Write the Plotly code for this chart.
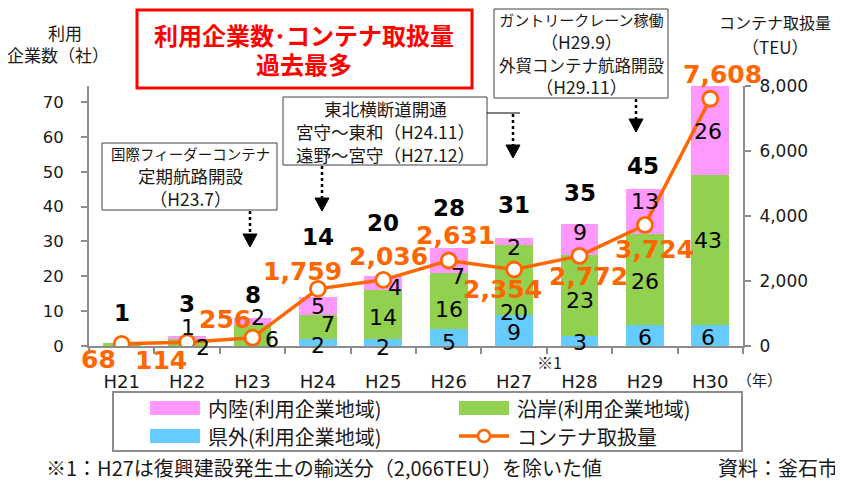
import plotly.graph_objects as go

# ---------------- data ----------------
categories = ["H21", "H22", "H23", "H24", "H25", "H26", "H27", "H28", "H29", "H30"]
kengai = [0, 0, 0, 2, 2, 5, 9, 3, 6, 6]            # 県外(利用企業地域)
engan = [1, 2, 6, 7, 14, 16, 20, 23, 26, 43]       # 沿岸(利用企業地域)
nairiku = [0, 1, 2, 5, 4, 7, 2, 9, 13, 26]         # 内陸(利用企業地域)
teu = [68, 114, 256, 1759, 2036, 2631, 2354, 2772, 3724, 7608]  # コンテナ取扱量
left_ticks = [0, 10, 20, 30, 40, 50, 60, 70]
right_ticks = [0, 2000, 4000, 6000, 8000]
series_names = ["県外(利用企業地域)", "沿岸(利用企業地域)", "内陸(利用企業地域)", "コンテナ取扱量"]

# ---------------- style ----------------
C_BLUE = "#66CCFF"
C_GREEN = "#92D050"
C_PINK = "#FF99FF"
C_ORANGE = "#FF6600"
AX = "#8C8C8C"
NUMF = "DejaVu Sans, Noto Sans CJK JP, sans-serif"
JPF = "Noto Sans CJK JP, DejaVu Sans, sans-serif"

OFF = 8  # page body margin
W, H = 843 - OFF, 483 - OFF
# plot area in page pixels
X0, X1, YB, YT = 89, 743, 346, 86


def px(x):
    return (x - X0) / (X1 - X0)


def py(y):
    return (YB - y) / (YB - YT)


totals = [a + b + c for a, b, c in zip(kengai, engan, nairiku)]

fig = go.Figure()
fig.add_trace(go.Bar(x=categories, y=kengai, name=series_names[0], marker_color=C_BLUE,
                     marker_line_width=0, width=0.58, showlegend=False))
fig.add_trace(go.Bar(x=categories, y=engan, name=series_names[1], marker_color=C_GREEN,
                     marker_line_width=0, width=0.58, showlegend=False))
fig.add_trace(go.Bar(x=categories, y=nairiku, name=series_names[2], marker_color=C_PINK,
                     marker_line_width=0, width=0.58, showlegend=False))
fig.add_trace(go.Scatter(x=categories, y=teu, name=series_names[3], yaxis="y2",
                         mode="lines+markers",
                         line=dict(color=C_ORANGE, width=3.5),
                         marker=dict(symbol="circle", size=15, color="white",
                                     line=dict(color=C_ORANGE, width=2.8)),
                         showlegend=False))

ann = []
shapes = []

# total labels
tot_shift = [(0, 30), (0, 32), (0, 23), (0, 60), (0, 53), (0, 40), (0, 33), (0, 31), (-2, 23), (-7, 32)]
for i, c in enumerate(categories):
    dx, dy = tot_shift[i]
    ann.append(dict(x=c, y=totals[i], xref="x", yref="y", text="<b>%d</b>" % totals[i],
                    showarrow=False, xshift=dx, yshift=dy, yanchor="middle",
                    font=dict(family=NUMF, size=23, color="#000000")))

# segment labels
seg_shift = {
    0: [None, None, None, (0, 2.5), (0, 4.5), (0, 5), (0, 2), (0, 2), (0, 1.5), (-2, 1.5)],
    1: [None, (16, 4.5), (19, 3.5), (10, -2), (0, 2.4), (0, 9), (0, 33), (0, 5), (0, 2), (-2, -10)],
    2: [None, (1, -10), (5, -4.6), (0, 1), (12, 4), (9, 16), (0, 5.6), (0, -7.7), (0, -10), (-2, 2)],
}
stacks = [kengai, engan, nairiku]
for s, vals in enumerate(stacks):
    for i, c in enumerate(categories):
        sh = seg_shift[s][i]
        if sh is None or vals[i] == 0:
            continue
        base = sum(stacks[k][i] for k in range(s))
        mid = base + vals[i] / 2
        ann.append(dict(x=c, y=mid, xref="x", yref="y", text=str(vals[i]), showarrow=False,
                        xshift=sh[0], yshift=-sh[1], yanchor="middle",
                        font=dict(family=NUMF, size=22, color="#000000")))

# line labels
teu_shift = [(-23, -16), (-26, -18), (-28, 18), (-15, 17), (5, 23), (7, 25), (-12, -20), (9, -21), (10, -25), (12, 24)]
for i, c in enumerate(categories):
    dx, dy = teu_shift[i]
    ann.append(dict(x=c, y=teu[i], xref="x", yref="y2", text="<b>{:,}</b>".format(teu[i]),
                    showarrow=False, xshift=dx, yshift=dy, yanchor="middle",
                    font=dict(family=NUMF, size=25, color=C_ORANGE)))


def text_px(x, y, t, size, xanchor="center", color="#1a1a1a", family=JPF):
    ann.append(dict(x=px(x), y=py(y), xref="paper", yref="paper", text=t, showarrow=False,
                    xanchor=xanchor, yanchor="middle", font=dict(family=family, size=size, color=color)))


def rect_px(x0, y0, x1, y1, line="#404040", lw=1, fill=None):
    shapes.append(dict(type="rect", xref="paper", yref="paper", x0=px(x0), x1=px(x1),
                       y0=py(y1), y1=py(y0), line=dict(color=line, width=lw),
                       fillcolor=fill if fill else "rgba(0,0,0,0)"))


def line_px(x0, y0, x1, y1, color="#000000", lw=1, dash="solid"):
    shapes.append(dict(type="line", xref="paper", yref="paper", x0=px(x0), x1=px(x1),
                       y0=py(y0), y1=py(y1), line=dict(color=color, width=lw, dash=dash)))


def arrow_px(x, y0, y1):
    line_px(x, y0, x, y1 - 12, lw=2.5, dash="dot")
    path = "M {},{} L {},{} L {},{} Z".format(px(x - 7), py(y1 - 13), px(x + 7), py(y1 - 13), px(x), py(y1))
    shapes.append(dict(type="path", xref="paper", yref="paper", path=path,
                       fillcolor="#000000", line=dict(color="#000000", width=1)))


# title box
rect_px(137, 10, 472, 88, line="#FF0000", lw=3, fill="white")
text_px(304, 34, "<b>利用企業数･コンテナ取扱量</b>", 24, color="#FF0000")
text_px(304, 63, "<b>過去最多</b>", 24, color="#FF0000")

# annotation box 1
rect_px(102, 143, 277, 210, fill="white")
text_px(190, 177, "<span style='font-size:14.5px'>国際フィーダーコンテナ</span><br>"
        "<span style='font-size:17.5px'>定期航路開設</span><br>（H23.7）", 17.5)
arrow_px(250, 211, 247)

# annotation box 2
rect_px(283, 97, 487, 165, fill="white")
text_px(385, 131, "東北横断道開通<br>宮守～東和（H24.11）<br>遠野～宮守（H27.12）", 17.5)
arrow_px(322, 166, 211)
line_px(487, 113, 520, 113, lw=1)
arrow_px(513, 114, 158)

# annotation box 3
rect_px(494, 9, 668, 98, fill="white")
text_px(581, 54, "<span style='font-size:15px'>ガントリークレーン稼働</span><br>（H29.9）<br>"
        "<span style='font-size:16.5px'>外貿コンテナ航路開設</span><br>（H29.11）", 17.5)
arrow_px(636, 99, 132)

# axis titles
text_px(65, 32, "利用", 17)
text_px(58, 55, "企業数（社）", 17)
text_px(775, 22, "コンテナ取扱量", 16)
text_px(775, 46, "（TEU）", 17)
text_px(759, 379, "（年）", 15)
text_px(549, 362, "※1", 16)

# legend (manual)
rect_px(113, 392, 742, 451, line="#8C8C8C", lw=2)
rect_px(150, 401, 200, 415, line=C_PINK, lw=0, fill=C_PINK)
rect_px(459, 401, 509, 415, line=C_GREEN, lw=0, fill=C_GREEN)
rect_px(150, 429, 200, 443, line=C_BLUE, lw=0, fill=C_BLUE)
line_px(459, 436, 509, 436, color=C_ORANGE, lw=3.5)
shapes.append(dict(type="circle", xref="paper", yref="paper", x0=px(478), x1=px(490),
                   y0=py(442), y1=py(430), fillcolor="white", line=dict(color=C_ORANGE, width=2.5)))
text_px(206, 408, "内陸(利用企業地域)", 20, xanchor="left")
text_px(515, 408, "沿岸(利用企業地域)", 20, xanchor="left")
text_px(206, 436, "県外(利用企業地域)", 20, xanchor="left")
text_px(515, 436, "コンテナ取扱量", 20, xanchor="left")

# footnotes
text_px(44, 467, "※1：H27は復興建設発生土の輸送分（2,066TEU）を除いた値", 20, xanchor="left")
text_px(840, 467, "資料：釜石市", 20, xanchor="right")

fig.update_layout(
    width=W, height=H, autosize=False,
    margin=dict(l=X0 - OFF, r=(W + OFF) - X1, t=YT - OFF, b=(H + OFF) - YB, pad=0),
    paper_bgcolor="white", plot_bgcolor="white",
    barmode="stack", bargap=0.42,
    showlegend=False,
    font=dict(family=NUMF, color="#1a1a1a"),
    xaxis=dict(type="category", range=[-0.5, 9.5], showline=True, linecolor=AX, linewidth=2,
               ticks="outside", tickson="boundaries", ticklen=6, tickcolor=AX, tickwidth=2,
               tickfont=dict(family=NUMF, size=18, color="#1a1a1a"), ticklabelstandoff=18,
               showgrid=False, zeroline=False),
    yaxis=dict(range=[0, 74.6], tickvals=left_ticks, showline=True, linecolor=AX, linewidth=2,
               ticks="outside", ticklen=6, tickcolor=AX, tickwidth=2, showgrid=False, zeroline=False,
               tickfont=dict(family=NUMF, size=16.5, color="#1a1a1a"), ticklabelstandoff=14),
    yaxis2=dict(range=[0, 8000], tickvals=right_ticks, overlaying="y", side="right",
                showline=True, linecolor=AX, linewidth=2, ticks="outside", ticklen=6,
                tickcolor=AX, tickwidth=2, showgrid=False, zeroline=False, tickformat=",",
                tickfont=dict(family=NUMF, size=17, color="#1a1a1a"), ticklabelstandoff=5),
    annotations=ann,
    shapes=shapes,
)

fig.write_html("out.html")
